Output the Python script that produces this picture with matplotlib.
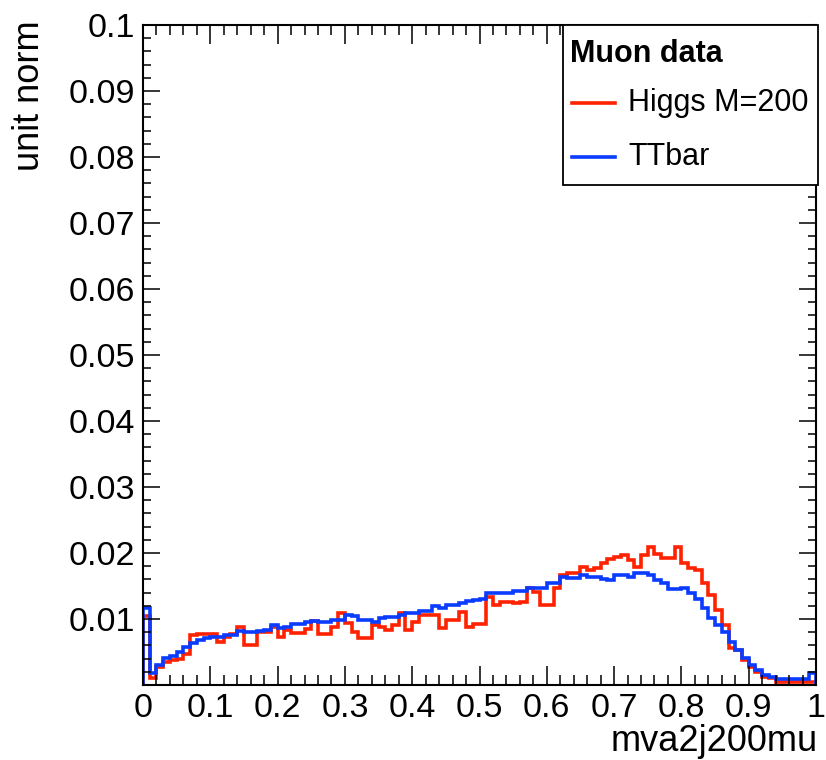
import numpy as np
import matplotlib
matplotlib.use("Agg")
import matplotlib.pyplot as plt
from matplotlib.patches import Rectangle
from matplotlib.lines import Line2D
from matplotlib.ticker import MultipleLocator

plt.rcParams['font.family'] = ['Liberation Sans', 'DejaVu Sans']

# ---- data ----
bin_edges = np.linspace(0.0, 1.0, 101)

higgs_m200 = [
    0.0105, 0.0010, 0.0027, 0.0035, 0.0038, 0.0040, 0.0047, 0.0076, 0.0078, 0.0078,
    0.0078, 0.0065, 0.0073, 0.0078, 0.0088, 0.0060, 0.0060, 0.0080, 0.0080, 0.0088,
    0.0073, 0.0083, 0.0079, 0.0079, 0.0085, 0.0097, 0.0077, 0.0077, 0.0088, 0.0109,
    0.0094, 0.0080, 0.0071, 0.0071, 0.0091, 0.0088, 0.0083, 0.0091, 0.0109, 0.0083,
    0.0096, 0.0106, 0.0106, 0.0106, 0.0086, 0.0098, 0.0098, 0.0111, 0.0088, 0.0093,
    0.0093, 0.0134, 0.0121, 0.0126, 0.0126, 0.0124, 0.0126, 0.0147, 0.0141, 0.0121,
    0.0121, 0.0147, 0.0167, 0.0169, 0.0169, 0.0179, 0.0174, 0.0177, 0.0185, 0.0191,
    0.0194, 0.0197, 0.0190, 0.0179, 0.0197, 0.0209, 0.0198, 0.0192, 0.0192, 0.0209,
    0.0185, 0.0178, 0.0174, 0.0155, 0.0136, 0.0114, 0.0091, 0.0056, 0.0053, 0.0038,
    0.0028, 0.0020, 0.0012, 0.0010, 0.0005, 0.0005, 0.0005, 0.0005, 0.0005, 0.0005,
]

ttbar = [
    0.0117, 0.0018, 0.0030, 0.0041, 0.0044, 0.0050, 0.0058, 0.0064, 0.0068, 0.0071,
    0.0073, 0.0073, 0.0076, 0.0076, 0.0082, 0.0080, 0.0081, 0.0082, 0.0084, 0.0091,
    0.0086, 0.0088, 0.0093, 0.0093, 0.0095, 0.0097, 0.0095, 0.0095, 0.0098, 0.0098,
    0.0106, 0.0104, 0.0099, 0.0098, 0.0096, 0.0101, 0.0103, 0.0103, 0.0106, 0.0109,
    0.0109, 0.0112, 0.0112, 0.0119, 0.0117, 0.0121, 0.0121, 0.0124, 0.0127, 0.0129,
    0.0131, 0.0139, 0.0139, 0.0139, 0.0140, 0.0143, 0.0143, 0.0147, 0.0147, 0.0147,
    0.0154, 0.0154, 0.0164, 0.0162, 0.0162, 0.0166, 0.0164, 0.0164, 0.0160, 0.0159,
    0.0166, 0.0166, 0.0164, 0.0169, 0.0169, 0.0166, 0.0159, 0.0154, 0.0145, 0.0145,
    0.0147, 0.0139, 0.0131, 0.0117, 0.0101, 0.0091, 0.0080, 0.0065, 0.0053, 0.0041,
    0.0030, 0.0023, 0.0015, 0.0012, 0.0009, 0.0009, 0.0009, 0.0009, 0.0009, 0.0018,
]

legend_header = "Muon data"
series_labels = ["Higgs M=200", "TTbar"]
series_colors = ["#ff2200", "#0a3cff"]
x_label = "mva2j200mu"
y_label = "unit norm"
x_ticks = [0, 0.1, 0.2, 0.3, 0.4, 0.5, 0.6, 0.7, 0.8, 0.9, 1.0]
x_ticklabels = ["0", "0.1", "0.2", "0.3", "0.4", "0.5", "0.6", "0.7", "0.8", "0.9", "1"]
y_ticks = [0.01, 0.02, 0.03, 0.04, 0.05, 0.06, 0.07, 0.08, 0.09, 0.1]
y_ticklabels = ["0.01", "0.02", "0.03", "0.04", "0.05", "0.06", "0.07", "0.08", "0.09", "0.1"]

# ---- figure ----
W, H = 826, 760
fig = plt.figure(figsize=(W / 100, H / 100), dpi=100)
fig.patch.set_facecolor("white")

def fx(px):
    return px / W

def fy(py):
    return 1 - py / H

ax = fig.add_axes([fx(143), fy(685), fx(816) - fx(143), fy(25) - fy(685)])

for vals, col in zip([higgs_m200, ttbar], series_colors):
    ax.stairs(vals, bin_edges, color=col, linewidth=2.6, baseline=0)

ax.set_xlim(0, 1)
ax.set_ylim(0, 0.1)
ax.set_xticks(x_ticks)
ax.set_xticklabels(x_ticklabels)
ax.set_yticks(y_ticks)
ax.set_yticklabels(y_ticklabels)
ax.xaxis.set_minor_locator(MultipleLocator(0.02))
ax.yaxis.set_minor_locator(MultipleLocator(0.002))

ax.tick_params(which="both", direction="in", top=True, right=True, width=1.1,
               labelsize=24.5, colors="black")
ax.tick_params(axis="x", which="major", length=14, pad=6)
ax.tick_params(axis="x", which="minor", length=7)
ax.tick_params(axis="y", which="major", length=12, pad=6)
ax.tick_params(axis="y", which="minor", length=6)
for s in ax.spines.values():
    s.set_linewidth(1.5)

fig.text(fx(30), fy(20), y_label, rotation=90, ha="center", va="top", fontsize=26)
fig.text(fx(818), fy(751), x_label, ha="right", va="baseline", fontsize=26)

# ---- legend box ----
box = Rectangle((fx(563), fy(185)), fx(818) - fx(563), fy(25) - fy(185),
                transform=fig.transFigure, facecolor="white", edgecolor="black",
                linewidth=1.3, zorder=10)
fig.add_artist(box)
fig.text(fx(570), fy(54), legend_header, ha="left", va="center", fontsize=22,
         fontweight="bold", zorder=11)
for i, (lab, col) in enumerate(zip(series_labels, series_colors)):
    yy = [103, 157][i]
    fig.add_artist(Line2D([fx(572), fx(615)], [fy(yy), fy(yy)], transform=fig.transFigure,
                          color=col, linewidth=2.6, zorder=11))
    fig.text(fx(628), fy(yy), lab, ha="left", va="center", fontsize=22, zorder=11)

fig.savefig("out.png", dpi=100)
